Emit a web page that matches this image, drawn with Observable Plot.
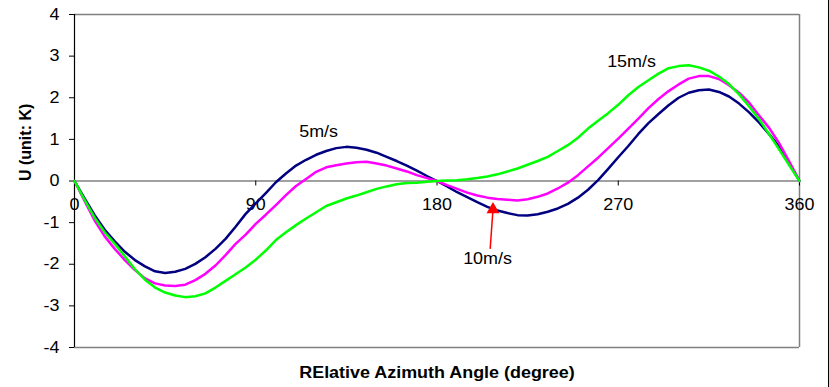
<!DOCTYPE html>
<html><head><meta charset="utf-8">
<script src="https://cdn.jsdelivr.net/npm/d3@7"></script>
<script src="https://cdn.jsdelivr.net/npm/@observablehq/plot@0.6"></script>
<style>
body{margin:0;background:#fff;}
#chart{width:828px;height:387px;border-right:1px solid #000;overflow:hidden;}
#chart svg text{font-family:Arial,"Liberation Sans",sans-serif;}
</style></head><body><div id="chart"></div>
<script>
// Relative azimuth angle (degree), every 5 degrees
const angles = [0,5,10,15,20,25,30,35,40,45,50,55,60,65,70,75,80,85,90,95,100,105,110,115,120,125,130,135,140,145,150,155,160,165,170,175,180,185,190,195,200,205,210,215,220,225,230,235,240,245,250,255,260,265,270,275,280,285,290,295,300,305,310,315,320,325,330,335,340,345,350,355,360];
// U (unit: K) for each wind speed
const u5  = [0,-0.42,-0.82,-1.17,-1.45,-1.70,-1.90,-2.05,-2.17,-2.21,-2.18,-2.11,-1.99,-1.83,-1.63,-1.39,-1.10,-0.79,-0.54,-0.29,-0.03,0.18,0.37,0.51,0.63,0.72,0.79,0.82,0.80,0.75,0.68,0.58,0.48,0.37,0.25,0.12,0,-0.13,-0.27,-0.39,-0.51,-0.62,-0.71,-0.77,-0.82,-0.83,-0.80,-0.74,-0.66,-0.55,-0.40,-0.21,0.02,0.29,0.57,0.84,1.13,1.39,1.61,1.82,2.00,2.12,2.18,2.20,2.14,2.03,1.86,1.65,1.40,1.12,0.82,0.42,0];
const u10 = [0,-0.48,-0.95,-1.33,-1.63,-1.90,-2.14,-2.34,-2.46,-2.51,-2.52,-2.49,-2.38,-2.23,-2.03,-1.78,-1.51,-1.29,-1.03,-0.81,-0.58,-0.34,-0.12,0.05,0.22,0.33,0.38,0.42,0.45,0.46,0.42,0.37,0.30,0.23,0.14,0.07,0,-0.10,-0.19,-0.28,-0.35,-0.40,-0.43,-0.45,-0.47,-0.44,-0.38,-0.30,-0.18,-0.04,0.14,0.35,0.56,0.79,1.02,1.26,1.50,1.75,1.97,2.16,2.32,2.46,2.52,2.52,2.45,2.30,2.12,1.88,1.57,1.27,0.90,0.46,0];
const u15 = [0,-0.45,-0.88,-1.23,-1.51,-1.81,-2.12,-2.37,-2.56,-2.68,-2.75,-2.79,-2.77,-2.70,-2.56,-2.40,-2.24,-2.08,-1.89,-1.67,-1.42,-1.23,-1.06,-0.90,-0.75,-0.60,-0.51,-0.42,-0.35,-0.27,-0.19,-0.13,-0.08,-0.05,-0.04,-0.02,0,0.01,0.02,0.04,0.07,0.11,0.16,0.23,0.30,0.39,0.48,0.58,0.72,0.86,1.04,1.26,1.45,1.63,1.83,2.06,2.26,2.42,2.58,2.71,2.76,2.78,2.73,2.65,2.51,2.33,2.08,1.79,1.48,1.12,0.75,0.37,0];
const seriesNames = ["5m/s","10m/s","15m/s"];
const seriesColors = ["#000080","#FF00FF","#00FF00"];
const xTicks = [0,90,180,270,360];
const yTicks = [-4,-3,-2,-1,0,1,2,3,4];
const xLabel = "RElative Azimuth Angle (degree)";
const yLabel = "U (unit: K)";
// in-chart annotations (angle, U)
const seriesLabels = [
  {text:"5m/s", angle:121.2, u:1.19},
  {text:"15m/s", angle:276.6, u:2.87},
  {text:"10m/s", angle:205.1, u:-1.86}
];
const arrowTail = {angle:206.4, u:-1.63};
const arrowHead = {angle:207.8, u:-0.685};

const seriesValues = [u5,u10,u15];
const rows = [];
seriesNames.forEach((s,k)=>angles.forEach((a,i)=>rows.push({series:s, angle:a, u:seriesValues[k][i]})));

const chart = Plot.plot({
  width: 827, height: 387,
  marginLeft: 74, marginRight: 28, marginTop: 14, marginBottom: 40,
  x: {domain:[0,360], axis:null},
  y: {domain:[-4,4], axis:null},
  color: {domain: seriesNames, range: seriesColors},
  style: {fontFamily:'Arial,"Liberation Sans",sans-serif', fontSize:"16px", color:"#000", background:"#fff"},
  marks: [
    Plot.ruleY([-4,4], {stroke:"#808080", strokeWidth:1.5}),
    Plot.ruleX([360], {stroke:"#808080", strokeWidth:1.5}),
    Plot.ruleY([0], {stroke:"#808080", strokeWidth:1.5}),
    Plot.ruleX(xTicks, {x:d=>d, y1:0, y2:0, insetBottom:-5, stroke:"#000"}),
    Plot.text(xTicks, {x:d=>d, y:0, text:d=>String(d), dy:24, fontSize:16, fill:"#000"}),
    Plot.axisY({ticks:yTicks, tickFormat:d=>String(d), tickSize:5, tickPadding:10, label:null, stroke:"#000", fill:"#000", fontSize:16}),
    Plot.ruleX([0], {stroke:"#000", strokeWidth:1.2}),
    Plot.line(rows, {x:"angle", y:"u", stroke:"series", z:"series", strokeWidth:2.5}),
    Plot.link([{a:arrowTail, b:arrowHead}], {x1:d=>d.a.angle, y1:d=>d.a.u, x2:d=>d.b.angle, y2:d=>d.b.u, stroke:"#FF0000", strokeWidth:1.5}),
    Plot.dot([arrowHead], {x:"angle", y:"u", symbol:"triangle", r:4.8, fill:"#FF0000", stroke:"none"}),
    Plot.text(seriesLabels, {x:"angle", y:"u", text:"text", fontSize:16, fill:"#000"}),
    Plot.text([yLabel], {frameAnchor:"left", dx:-49, rotate:-90, fontWeight:"bold", fontSize:16, fill:"#000"}),
    Plot.text([xLabel], {frameAnchor:"bottom", dy:30, fontWeight:"bold", fontSize:16, fill:"#000"})
  ]
});
document.getElementById("chart").appendChild(chart);
// the reference's lettering is slightly wide: stretch horizontal texts
chart.querySelectorAll("text").forEach(t=>{
  const tr = t.getAttribute("transform") || "";
  if (tr.includes("rotate") || t.querySelector("tspan")) return;
  const len = t.getComputedTextLength();
  if (len > 0) { t.setAttribute("textLength", (len*1.12).toFixed(1)); t.setAttribute("lengthAdjust","spacingAndGlyphs"); }
});
</script></body></html>
